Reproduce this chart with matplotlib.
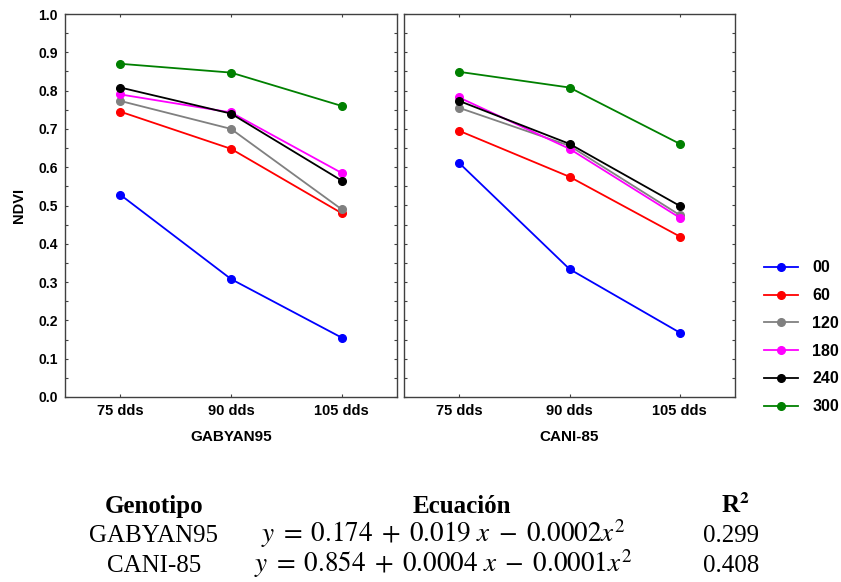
import numpy as np
import matplotlib
matplotlib.use('Agg')
import matplotlib.pyplot as plt
from matplotlib.ticker import MultipleLocator
from matplotlib.lines import Line2D

plt.rcParams['font.family'] = 'Liberation Sans'
plt.rcParams['mathtext.fontset'] = 'stix'

# data
dias = ['75 dds', '90 dds', '105 dds']
dosis = ['00', '60', '120', '180', '240', '300']
colores = ['#0000ff', '#ff0000', '#808080', '#ff00ff', '#000000', '#008000']

gabyan95 = [
    [0.528, 0.308, 0.155],
    [0.745, 0.648, 0.480],
    [0.773, 0.700, 0.490],
    [0.790, 0.743, 0.585],
    [0.808, 0.740, 0.565],
    [0.870, 0.847, 0.760],
]
cani85 = [
    [0.611, 0.334, 0.168],
    [0.695, 0.575, 0.419],
    [0.755, 0.656, 0.475],
    [0.782, 0.648, 0.468],
    [0.773, 0.661, 0.499],
    [0.849, 0.808, 0.661],
]
paneles = ['GABYAN95', 'CANI-85']

tabla_cab = ['Genotipo', 'Ecuación', r'R$^\mathbf{2}$']
tabla_gen = ['GABYAN95', 'CANI-85']
tabla_ec = [r'$y\;=\;0.174\;+\;0.019\ x\;-\;0.0002x^2$',
            r'$y\;=\;0.854\;+\;0.0004\ x\;-\;0.0001x^2$']
tabla_r2 = ['0.299', '0.408']

fig = plt.figure(figsize=(8.41, 5.82), dpi=100)
ax1 = fig.add_axes([65/841, 1-397/582, 332/841, 383/582])
ax2 = fig.add_axes([404/841, 1-397/582, 331/841, 383/582])

x = np.arange(len(dias))
for ax, datos, nombre in zip([ax1, ax2], [gabyan95, cani85], paneles):
    for serie, c in zip(datos, colores):
        ax.plot(x, serie, color=c, lw=1.3, marker='o', markersize=5.5)
    ax.set_xlim(-0.5, 2.5)
    ax.set_ylim(0, 1.0)
    ax.set_xticks(x)
    ax.set_xticklabels(dias, fontsize=10.5, fontweight='bold')
    ax.set_xlabel(nombre, fontsize=11, fontweight='bold', labelpad=9)
    ax.yaxis.set_major_locator(MultipleLocator(0.1))
    ax.yaxis.set_minor_locator(MultipleLocator(0.05))
    ax.tick_params(which='both', direction='in', top=True, right=True,
                   length=2.5, width=0.8, color='#404040', pad=5)
    for s in ax.spines.values():
        s.set_color('#404040')
        s.set_linewidth(1.0)

ax1.set_yticks(np.arange(0, 1.01, 0.1))
ax1.set_yticklabels([f'{v:.1f}' for v in np.arange(0, 1.01, 0.1)],
                    fontsize=10, fontweight='bold')
ax1.set_ylabel('NDVI', fontsize=10.5, fontweight='bold', labelpad=9)
ax2.tick_params(labelleft=False)

handles = [Line2D([], [], color=c, lw=1.3, marker='o', markersize=5.5) for c in colores]
fig.legend(handles, dosis, loc='upper left', bbox_to_anchor=(750/841, 1-246/582),
           frameon=False, prop={'weight': 'bold', 'size': 11.5},
           handlelength=2.1, handletextpad=0.9, labelspacing=0.8)

# tabla de ecuaciones
fs = 18
cab_x = [154/841, 462/841, 735/841]
col_x = [154/841, 443/841, 731/841]
base_y = [1-513/582, 1-542/582, 1-572/582]
for cx, t in zip(cab_x, tabla_cab):
    fig.text(cx, base_y[0], t, ha='center', va='baseline', fontsize=fs,
             fontweight='bold', family='Liberation Serif')
for i in range(2):
    fig.text(col_x[0], base_y[i+1], tabla_gen[i], ha='center', va='baseline',
             fontsize=fs, family='Liberation Serif')
    fig.text(col_x[1], base_y[i+1], tabla_ec[i], ha='center', va='baseline',
             fontsize=19.5)
    fig.text(col_x[2], base_y[i+1], tabla_r2[i], ha='center', va='baseline',
             fontsize=fs, family='Liberation Serif')

fig.savefig('out.png', dpi=100)
